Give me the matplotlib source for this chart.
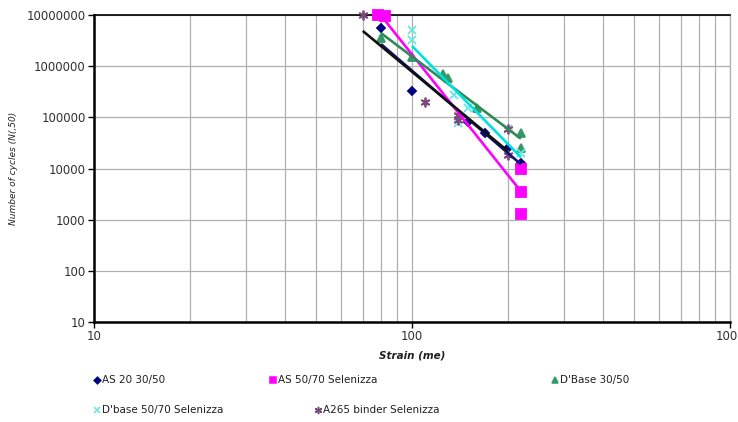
import numpy as np
import matplotlib
matplotlib.use("Agg")
import matplotlib.pyplot as plt
from matplotlib.lines import Line2D
from matplotlib.ticker import FixedLocator, NullFormatter

plt.rcParams['font.family'] = ['DejaVu Sans']

# Fatigue test results: strain (microstrain) vs. number of cycles to failure
strain_as20 = [80, 100, 150, 170, 200, 220]
cycles_as20 = [5.6e6, 3.3e5, 8.0e4, 5.0e4, 2.5e4, 1.3e4]

strain_as50 = [78, 82, 220, 220, 220]
cycles_as50 = [1.0e7, 9.5e6, 1.0e4, 3.5e3, 1.3e3]

strain_db30 = [80, 100, 125, 130, 160, 220, 220]
cycles_db30 = [3.5e6, 1.5e6, 7.0e5, 6.0e5, 1.5e5, 5.0e4, 2.5e4]

strain_db50 = [100, 100, 136, 140, 150, 200, 220]
cycles_db50 = [5.0e6, 3.2e6, 2.7e5, 7.8e4, 1.5e5, 6.0e4, 2.0e4]

strain_a265 = [70, 110, 140, 140, 200, 200]
cycles_a265 = [1.0e7, 2.0e5, 1.1e5, 9.0e4, 6.0e4, 1.8e4]

series_names = ["AS 20 30/50", "AS 50/70 Selenizza", "D'Base 30/50",
                "D'base 50/70 Selenizza", "A265 binder Selenizza"]

x_ticks = [10, 100, 1000]
x_tick_labels = ["10", "100", "1000"]
y_ticks = [10, 100, 1000, 10000, 100000, 1000000, 10000000]
y_tick_labels = ["10", "100", "1000", "10000", "100000", "1000000", "10000000"]

W, H = 738, 422
fig = plt.figure(figsize=(W / 100, H / 100), dpi=100)
ax = fig.add_axes([94 / W, 1 - 322 / H, (730 - 94) / W, (322 - 15) / H])
ax.set_xscale('log')
ax.set_yscale('log')
ax.set_xlim(10, 1000)
ax.set_ylim(10, 1e7)

# grid: every minor strain value vertically, decades horizontally
ax.xaxis.set_minor_locator(FixedLocator([m * d for d in (10, 100) for m in range(2, 10)]))
ax.xaxis.set_minor_formatter(NullFormatter())
ax.yaxis.set_minor_locator(FixedLocator([]))
ax.grid(True, which='both', axis='x', color='#b0b0b0', lw=0.9)
ax.grid(True, which='major', axis='y', color='#b0b0b0', lw=0.9)
ax.set_axisbelow(True)

ax.xaxis.set_major_locator(FixedLocator(x_ticks))
ax.set_xticklabels(x_tick_labels)
ax.yaxis.set_major_locator(FixedLocator(y_ticks))
ax.set_yticklabels(y_tick_labels)
ax.tick_params(axis='both', which='major', direction='out', length=4, width=1,
               labelsize=8.5, labelcolor='#303030', pad=2)
ax.tick_params(axis='x', which='minor', length=0)

for side in ('left', 'bottom'):
    ax.spines[side].set_linewidth(1.8)
    ax.spines[side].set_color('black')
ax.spines['top'].set_linewidth(1.2)
ax.spines['top'].set_color('black')
ax.spines['right'].set_color('#b0b0b0')
ax.spines['right'].set_linewidth(0.9)

ax.set_xlabel("Strain (me)", fontsize=7.5, style='italic', fontweight='bold',
              color='#202020', labelpad=5)
ax.set_ylabel("Number of cycles (N(,50)", fontsize=6.5, style='italic',
              color='#202020', labelpad=6)

styles = [
    dict(x=strain_as20, y=cycles_as20, marker='D', ms=4.5, mc='#000080', lc='#14147a'),
    dict(x=strain_as50, y=cycles_as50, marker='s', ms=6.5, mc='#ff00ff', lc='#ff00ff'),
    dict(x=strain_db30, y=cycles_db30, marker='^', ms=5.5, mc='#339966', lc='#2e8b57'),
    dict(x=strain_db50, y=cycles_db50, marker='x', ms=6, mc='#66e6e6', lc='#00e0e0'),
    dict(x=strain_a265, y=cycles_a265, marker=(6, 2, 0), ms=7, mc='#7a4a7a', lc='#101010'),
]

handles = []
for st, name in zip(styles, series_names):
    h, = ax.plot(st['x'], st['y'], linestyle='none', marker=st['marker'],
                 ms=st['ms'], color=st['mc'], mec=st['mc'], mew=1.3,
                 clip_on=False, zorder=3, label=name)
    handles.append(h)

# power-law trendlines fitted in log-log space
for st in styles:
    lx = np.log10(st['x'])
    ly = np.log10(st['y'])
    slope, icpt = np.polyfit(lx, ly, 1)
    xs = np.array([min(st['x']), max(st['x'])])
    ax.plot(xs, 10 ** (icpt + slope * np.log10(xs)), color=st['lc'], lw=1.9,
            solid_capstyle='butt', zorder=4)

# legend entries laid out in two rows below the axes
legend_pos = [(97, 380), (273, 380), (555, 380), (97, 410), (318, 410)]
for h, (px, py) in zip(handles, legend_pos):
    fig.add_artist(Line2D([px / W], [1 - py / H], transform=fig.transFigure,
                          linestyle='none', marker=h.get_marker(),
                          ms=h.get_markersize() * 0.75, color=h.get_color(),
                          mec=h.get_markeredgecolor(), mew=1.1))
    fig.text((px + 5) / W, 1 - py / H, h.get_label(), fontsize=7.5,
             color='#202020', va='center', ha='left')

fig.savefig("out.png", dpi=100)
